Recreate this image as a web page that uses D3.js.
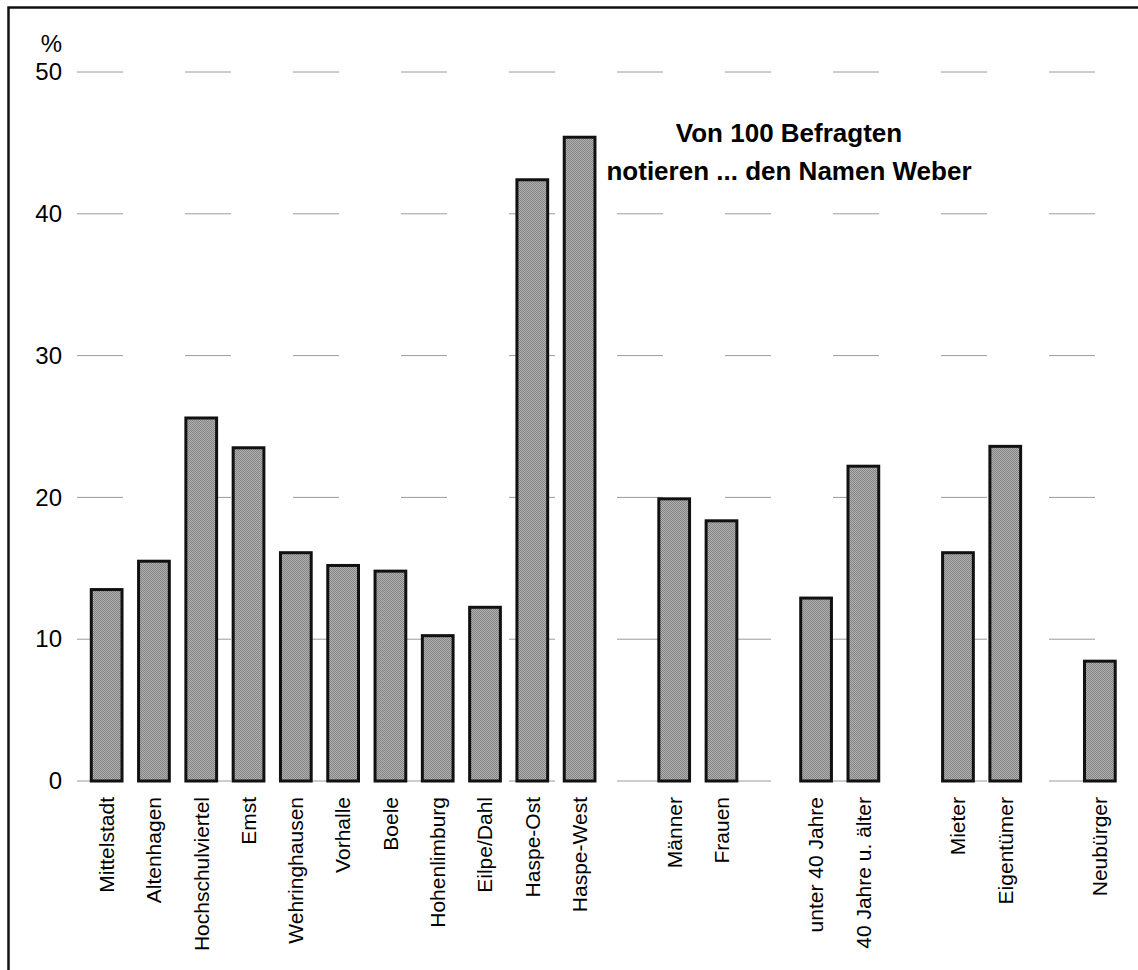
<!DOCTYPE html>
<html>
<head>
<meta charset="utf-8">
<script src="https://cdn.jsdelivr.net/npm/d3@7"></script>
<style>
  html, body { margin: 0; padding: 0; background: #fff; }
  svg { display: block; }
  text { font-family: "Liberation Sans", Arial, sans-serif; fill: #000; }
</style>
</head>
<body>
<svg id="chart" width="1138" height="970"></svg>
<script>
// ---- data ----
const districts = ["Mittelstadt", "Altenhagen", "Hochschulviertel", "Emst", "Wehringhausen",
  "Vorhalle", "Boele", "Hohenlimburg", "Eilpe/Dahl", "Haspe-Ost", "Haspe-West"];
const districtValues = [13.5, 15.5, 25.6, 23.5, 16.1, 15.2, 14.8, 10.25, 12.25, 42.4, 45.4];
const genderGroup = ["Männer", "Frauen"];
const genderValues = [19.9, 18.35];
const ageGroup = ["unter 40 Jahre", "40 Jahre u. älter"];
const ageValues = [12.9, 22.2];
const tenureGroup = ["Mieter", "Eigentümer"];
const tenureValues = [16.1, 23.6];
const newGroup = ["Neubürger"];
const newValues = [8.45];
const yTicks = [0, 10, 20, 30, 40, 50];
const titleLines = ["Von 100 Befragten", "notieren ... den Namen Weber"];
const yUnit = "%";

// ---- build ----
const groups = [
  [districts, districtValues],
  [genderGroup, genderValues],
  [ageGroup, ageValues],
  [tenureGroup, tenureValues],
  [newGroup, newValues]
];
const data = [];
const slots = [];
groups.forEach(([cats, vals], gi) => {
  if (gi > 0) slots.push("__gap" + gi);
  cats.forEach((c, i) => { slots.push(c); data.push({ cat: c, value: vals[i] }); });
});

const svg = d3.select("#chart");

// frame
svg.append("rect")
  .attr("x", 8.5).attr("y", 7.5)
  .attr("width", 1160).attr("height", 1000)
  .attr("fill", "none").attr("stroke", "#111").attr("stroke-width", 2.5);

const x = d3.scaleBand().domain(slots).range([83, 1123.5]).paddingInner(0.35).paddingOuter(0.175);
const y = d3.scaleLinear().domain([0, 50]).range([781, 72]);

// texture pattern
const defs = svg.append("defs");
const pat = defs.append("pattern").attr("id", "dither")
  .attr("width", 2).attr("height", 2).attr("patternUnits", "userSpaceOnUse");
pat.append("rect").attr("width", 2).attr("height", 2).attr("fill", "#b0b0b0");
pat.append("rect").attr("width", 1).attr("height", 1).attr("fill", "#858585");
pat.append("rect").attr("x", 1).attr("y", 1).attr("width", 1).attr("height", 1).attr("fill", "#858585");

// gridlines
svg.append("g").selectAll("line").data(yTicks).join("line")
  .attr("x1", 75).attr("x2", 1123)
  .attr("y1", d => y(d)).attr("y2", d => y(d))
  .attr("stroke", "#9a9a9a").attr("stroke-width", 1)
  .attr("stroke-dasharray", "46,62")
  .attr("stroke-dashoffset", -2);

// y axis labels
const yAxis = d3.axisLeft(y).tickValues(yTicks).tickSize(0).tickPadding(13).tickFormat(d3.format("d"));
const gy = svg.append("g").attr("transform", "translate(75,0)").call(yAxis);
gy.select(".domain").remove();
gy.selectAll("text")
  .style("font-family", "'Liberation Sans', Arial, sans-serif")
  .style("font-size", "24px").attr("fill", "#000");

svg.append("text").attr("x", 62).attr("y", 52)
  .attr("text-anchor", "end").style("font-size", "24px").text(yUnit);

// bars
svg.append("g").selectAll("rect").data(data).join("rect")
  .attr("x", d => x(d.cat))
  .attr("y", d => y(d.value))
  .attr("width", x.bandwidth())
  .attr("height", d => y(0) - y(d.value))
  .attr("fill", "url(#dither)")
  .attr("stroke", "#111").attr("stroke-width", 3);

// x labels
svg.append("g").selectAll("text").data(data).join("text")
  .attr("transform", d => `translate(${x(d.cat) + x.bandwidth() / 2},797) rotate(-90)`)
  .attr("text-anchor", "end")
  .attr("dy", "0.35em")
  .style("font-size", "21px")
  .text(d => d.cat);

// title
svg.append("g").selectAll("text").data(titleLines).join("text")
  .attr("x", 789).attr("y", (d, i) => 142 + i * 38)
  .attr("text-anchor", "middle")
  .style("font-size", "26px").style("font-weight", "bold")
  .text(d => d);
</script>
</body>
</html>
